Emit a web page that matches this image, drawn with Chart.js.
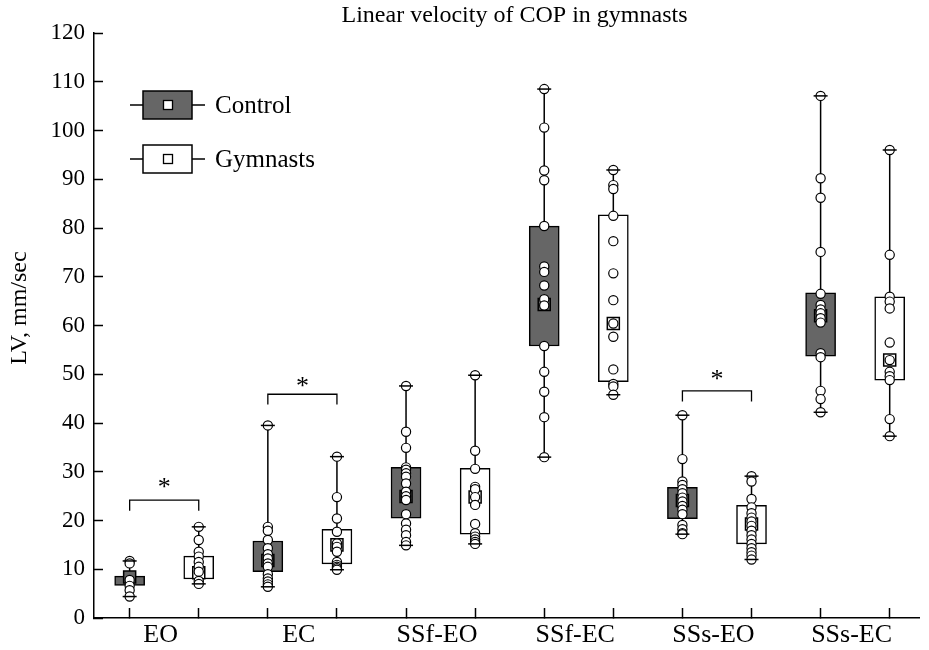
<!DOCTYPE html>
<html lang="en">
<head>
  <meta charset="UTF-8" />
  <title>Linear velocity of COP in gymnasts</title>
  <script src="https://cdn.jsdelivr.net/npm/chart.js"></script>
  <style>
    body { margin: 0; background: #fff; }
    #wrap { width: 929px; height: 650px; }
  </style>
</head>
<body>
  <div id="wrap"><canvas id="lvChart" width="929" height="650"></canvas></div>

  <script>
    const categories = ['EO', 'EC', 'SSf-EO', 'SSf-EC', 'SSs-EO', 'SSs-EC'];

    // box statistics, mm/sec
    const controlMin    = [4.4, 6.4, 14.9, 33.0, 17.2, 42.2];
    const controlQ1     = [6.7, 9.5, 20.5, 55.8, 20.4, 53.7];
    const controlMedian = [8.4, 11.8, 24.9, 64.3, 24.1, 62.0];
    const controlQ3     = [8.6, 15.8, 30.9, 80.4, 26.8, 66.7];
    const controlMax    = [11.7, 39.5, 47.6, 108.5, 41.6, 107.1];

    const gymMin    = [7.0, 9.9, 15.2, 45.8, 12.0, 37.3];
    const gymQ1     = [8.0, 11.1, 17.2, 48.5, 15.2, 48.8];
    const gymMedian = [9.3, 15.0, 24.8, 60.4, 19.3, 52.9];
    const gymQ3     = [12.7, 18.2, 30.7, 82.7, 23.1, 65.9];
    const gymMax    = [18.7, 33.1, 49.8, 91.9, 29.1, 96.0];

    // individual subjects
    const controlPoints = [
      [11.7, 11.2, 7.8, 6.6, 5.7, 4.4],
      [39.5, 18.7, 17.9, 16.0, 14.3, 13.1, 12.2, 11.2, 10.5, 9.0, 8.1, 7.5, 6.9, 6.4],
      [47.6, 38.2, 34.9, 30.9, 30.4, 29.7, 29.0, 27.6, 25.9, 25.0, 24.2, 21.3, 19.4, 18.1, 17.0, 15.6, 14.9],
      [108.5, 100.6, 91.8, 89.8, 80.4, 72.1, 71.0, 68.2, 65.4, 64.1, 55.8, 50.5, 46.4, 41.2, 33.0],
      [41.6, 32.6, 28.0, 27.3, 26.4, 25.6, 24.7, 23.9, 23.0, 22.2, 21.3, 19.1, 18.2, 17.4, 17.2],
      [107.1, 90.2, 86.2, 75.1, 66.5, 64.2, 63.3, 62.5, 61.5, 60.6, 54.3, 53.5, 46.6, 44.9, 42.2]
    ];
    const gymPoints = [
      [18.7, 16.0, 13.6, 12.6, 11.5, 10.5, 9.5, 7.6, 7.0],
      [33.1, 24.8, 20.4, 17.7, 15.3, 14.6, 13.6, 11.5, 10.9, 10.5, 10.2, 9.9],
      [49.8, 34.3, 30.6, 26.9, 26.4, 24.8, 23.2, 19.3, 17.4, 16.7, 16.1, 15.6, 15.2],
      [91.9, 88.8, 88.0, 82.5, 77.3, 70.7, 65.2, 60.4, 57.7, 51.0, 48.0, 47.5, 45.8],
      [29.1, 28.0, 24.4, 22.7, 21.5, 20.6, 19.8, 18.9, 17.9, 17.0, 16.1, 15.2, 14.3, 13.5, 12.8, 12.0],
      [96.0, 74.5, 65.9, 64.9, 63.5, 56.5, 52.9, 50.5, 49.6, 48.8, 40.8, 37.3]
    ];

    // significant differences (*): category index, bracket foot/top, asterisk level
    const sigCategory = [0, 1, 4];
    const sigLow  = [22.0, 43.8, 44.4];
    const sigHigh = [24.2, 45.9, 46.6];
    const sigStar = [27.7, 48.5, 49.8];

    const groupNames = ['Control', 'Gymnasts'];
    const GREY = '#666666';

    // control box at i+1, gymnasts box half a step to the right
    const xOf = (i, g) => i + 1 + g * 0.5;

    function whiskerData(g, mins, maxs) {
      const out = [];
      mins.forEach((m, i) => {
        out.push({x: xOf(i, g), y: m}, {x: xOf(i, g), y: maxs[i]}, {x: xOf(i, g), y: null});
      });
      return out;
    }

    function groupDatasets(g, mins, q1, med, q3, maxs, pts, fill) {
      return [
        {
          type: 'scatter', showLine: true, data: whiskerData(g, mins, maxs),
          borderColor: '#000', borderWidth: 1.5, pointRadius: 0, spanGaps: false, order: 5
        },
        {
          type: 'bar', label: groupNames[g],
          data: q1.map((v, i) => ({x: xOf(i, g), y: [v, q3[i]]})),
          backgroundColor: fill, borderColor: '#000', borderWidth: 1.5,
          borderSkipped: false, barThickness: 30, grouped: false, order: 4
        },
        {
          type: 'scatter', data: med.map((v, i) => ({x: xOf(i, g), y: v})),
          pointStyle: 'rect', pointRadius: 8.5, backgroundColor: fill,
          borderColor: '#000', borderWidth: 1.5, order: 3
        },
        {
          type: 'scatter', data: pts.flatMap((arr, i) => arr.map(v => ({x: xOf(i, g), y: v}))),
          pointRadius: 4.6, backgroundColor: '#fff', borderColor: '#000', borderWidth: 1.2, order: 2
        },
        {
          type: 'scatter',
          data: mins.flatMap((m, i) => [{x: xOf(i, g), y: m}, {x: xOf(i, g), y: maxs[i]}]),
          pointStyle: 'line', pointRadius: 7, borderColor: '#000', borderWidth: 1.5, order: 1
        }
      ];
    }

    const bracketData = [];
    sigCategory.forEach((c, k) => {
      const a = xOf(c, 0), b = xOf(c, 1);
      bracketData.push({x: a, y: sigLow[k]}, {x: a, y: sigHigh[k]},
                       {x: b, y: sigHigh[k]}, {x: b, y: sigLow[k]}, {x: b, y: null});
    });

    const extras = {
      id: 'extras',
      afterDraw(chart) {
        const {ctx, chartArea, scales: {x, y}} = chart;
        ctx.save();
        ctx.fillStyle = '#000';
        ctx.strokeStyle = '#000';

        // title, sits a little right of the plot centre
        ctx.font = '24px "Liberation Serif"';
        ctx.textAlign = 'center';
        ctx.textBaseline = 'middle';
        ctx.fillText('Linear velocity of COP in gymnasts', (chartArea.left + chartArea.right) / 2 + 8, 16);

        // asterisks over the brackets
        ctx.font = '26px "Liberation Serif"';
        ctx.textBaseline = 'alphabetic';
        const m = ctx.measureText('*');
        const off = (m.actualBoundingBoxAscent - m.actualBoundingBoxDescent) / 2;
        sigCategory.forEach((c, k) => {
          const px = (x.getPixelForValue(xOf(c, 0)) + x.getPixelForValue(xOf(c, 1))) / 2;
          ctx.fillText('*', px, y.getPixelForValue(sigStar[k]) + off);
        });

        // legend in the upper left corner
        const fills = [GREY, '#fff'];
        groupNames.forEach((name, k) => {
          const cy = chartArea.top + 72 + k * 54;
          const lx = chartArea.left + 36;
          ctx.lineWidth = 1.5;
          ctx.beginPath();
          ctx.moveTo(lx, cy);
          ctx.lineTo(lx + 75, cy);
          ctx.stroke();
          ctx.fillStyle = fills[k];
          ctx.fillRect(lx + 13, cy - 14, 49, 28);
          ctx.strokeRect(lx + 13, cy - 14, 49, 28);
          ctx.fillStyle = '#fff';
          ctx.lineWidth = 1.3;
          ctx.fillRect(lx + 33.5, cy - 4.5, 9, 9);
          ctx.strokeRect(lx + 33.5, cy - 4.5, 9, 9);
          ctx.fillStyle = '#000';
          ctx.font = '25px "Liberation Serif"';
          ctx.textAlign = 'left';
          ctx.textBaseline = 'middle';
          ctx.fillText(name, lx + 85, cy + 1);
        });

        // y axis title
        ctx.translate(20, 308);
        ctx.rotate(-Math.PI / 2);
        ctx.font = '24px "Liberation Serif"';
        ctx.textAlign = 'center';
        ctx.textBaseline = 'middle';
        ctx.fillText('LV, mm/sec', 0, 0);
        ctx.restore();
      }
    };

    Chart.defaults.font.family = '"Liberation Serif", "DejaVu Serif", serif';
    Chart.defaults.color = '#000';

    new Chart(document.getElementById('lvChart'), {
      type: 'scatter',
      data: {
        datasets: [
          {
            type: 'scatter', showLine: true, data: bracketData, borderColor: '#000',
            borderWidth: 1.3, pointRadius: 0, spanGaps: false, order: 6
          },
          ...groupDatasets(0, controlMin, controlQ1, controlMedian, controlQ3, controlMax, controlPoints, GREY),
          ...groupDatasets(1, gymMin, gymQ1, gymMedian, gymQ3, gymMax, gymPoints, '#fff')
        ]
      },
      options: {
        responsive: false,
        animation: false,
        events: [],
        layout: { padding: { left: 0, right: 1, top: 33, bottom: 0 } },
        plugins: {
          legend: { display: false },
          tooltip: { enabled: false },
          title: { display: false }
        },
        scales: {
          x: {
            type: 'linear',
            min: 0.742,
            max: 6.712,
            offset: false,
            grid: { offset: false, drawOnChartArea: false, drawTicks: true, tickLength: -10, tickColor: '#000', tickWidth: 1.5 },
            border: { display: true, color: '#000', width: 1.5 },
            afterBuildTicks: scale => {
              scale.ticks = categories.flatMap((c, i) => [{value: xOf(i, 0)}, {value: xOf(i, 1)}]);
            },
            afterFit: scale => { scale.height = 32; },
            ticks: {
              autoSkip: false,
              maxRotation: 0,
              minRotation: 0,
              padding: 12,
              labelOffset: 31,
              font: { size: 26 },
              callback: (value, index) => (index % 2 === 0 ? categories[index / 2] : '')
            }
          },
          y: {
            min: 0,
            max: 120,
            grid: { drawOnChartArea: false, drawTicks: true, tickLength: -9, tickColor: '#000', tickWidth: 1.5 },
            border: { display: true, color: '#000', width: 1.5 },
            afterFit: scale => { scale.width = 94; },
            ticks: { stepSize: 10, padding: 18, font: { size: 23 } }
          }
        }
      },
      plugins: [extras]
    });
  </script>
</body>
</html>
